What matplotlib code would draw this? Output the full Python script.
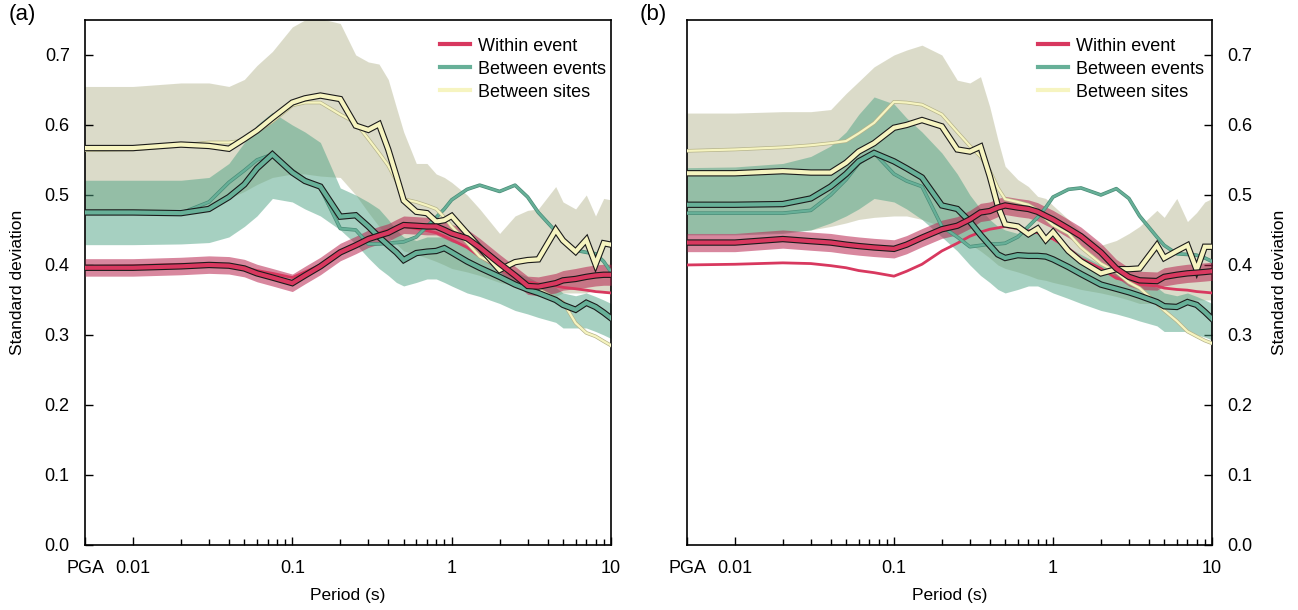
import numpy as np
import matplotlib
matplotlib.use('Agg')
import matplotlib.pyplot as plt
import matplotlib.patheffects as pe
from matplotlib.ticker import FixedLocator, FixedFormatter, NullFormatter

plt.rcParams['font.family'] = ['Liberation Sans', 'DejaVu Sans']

# periods (s); PGA is drawn at 0.005
period = [0.005, 0.01, 0.02, 0.03, 0.04, 0.05, 0.06, 0.075, 0.1, 0.12, 0.15, 0.2,
          0.25, 0.3, 0.35, 0.4, 0.45, 0.5, 0.6, 0.7, 0.8, 0.9, 1.0, 1.25, 1.5,
          2.0, 2.5, 3.0, 3.5, 4.5, 5.0, 6.0, 7.0, 8.0, 9.0, 10.0]

# ---- panel (a) ----
a_red = [0.396, 0.396, 0.398, 0.400, 0.399, 0.395, 0.388, 0.382, 0.374, 0.385, 0.398, 0.418,
         0.428, 0.437, 0.442, 0.446, 0.452, 0.457, 0.456, 0.455, 0.455, 0.450, 0.445, 0.438, 0.425,
         0.402, 0.385, 0.370, 0.369, 0.374, 0.378, 0.380, 0.383, 0.385, 0.386, 0.386]
a_red_hi = [0.409, 0.409, 0.411, 0.413, 0.412, 0.408, 0.401, 0.395, 0.387, 0.398, 0.411, 0.431,
            0.441, 0.450, 0.455, 0.459, 0.465, 0.470, 0.469, 0.468, 0.468, 0.463, 0.458, 0.451, 0.438,
            0.415, 0.398, 0.384, 0.383, 0.388, 0.392, 0.395, 0.398, 0.400, 0.401, 0.401]
a_red_lo = [0.384, 0.384, 0.386, 0.388, 0.387, 0.383, 0.376, 0.370, 0.362, 0.373, 0.386, 0.406,
            0.416, 0.425, 0.430, 0.434, 0.440, 0.445, 0.444, 0.443, 0.443, 0.438, 0.433, 0.426, 0.413,
            0.390, 0.373, 0.358, 0.356, 0.360, 0.364, 0.366, 0.368, 0.370, 0.371, 0.371]
a_teal = [0.475, 0.475, 0.474, 0.480, 0.497, 0.515, 0.538, 0.558, 0.532, 0.520, 0.512, 0.469,
          0.471, 0.455, 0.440, 0.428, 0.418, 0.407, 0.417, 0.419, 0.420, 0.424, 0.418, 0.405, 0.396,
          0.383, 0.372, 0.365, 0.360, 0.350, 0.343, 0.336, 0.346, 0.340, 0.332, 0.324]
a_teal_hi = [0.521, 0.521, 0.521, 0.525, 0.545, 0.575, 0.600, 0.618, 0.600, 0.590, 0.575, 0.510,
             0.500, 0.490, 0.480, 0.465, 0.450, 0.440, 0.435, 0.440, 0.440, 0.440, 0.435, 0.425, 0.415,
             0.400, 0.390, 0.383, 0.375, 0.368, 0.360, 0.356, 0.360, 0.355, 0.350, 0.345]
a_teal_lo = [0.429, 0.429, 0.430, 0.432, 0.440, 0.455, 0.470, 0.495, 0.490, 0.480, 0.470, 0.450,
             0.430, 0.410, 0.395, 0.385, 0.375, 0.370, 0.375, 0.380, 0.380, 0.375, 0.370, 0.360, 0.355,
             0.345, 0.335, 0.330, 0.325, 0.318, 0.310, 0.310, 0.310, 0.305, 0.300, 0.295]
a_yel = [0.567, 0.567, 0.572, 0.570, 0.566, 0.580, 0.592, 0.610, 0.632, 0.638, 0.642, 0.637,
         0.599, 0.593, 0.601, 0.565, 0.527, 0.492, 0.476, 0.474, 0.462, 0.464, 0.470, 0.445, 0.425,
         0.393, 0.404, 0.407, 0.408, 0.450, 0.435, 0.419, 0.436, 0.401, 0.431, 0.429]
a_yel_hi = [0.655, 0.655, 0.660, 0.660, 0.655, 0.665, 0.685, 0.705, 0.740, 0.750, 0.752, 0.745,
            0.700, 0.690, 0.687, 0.665, 0.625, 0.590, 0.545, 0.545, 0.530, 0.525, 0.518, 0.500, 0.480,
            0.445, 0.470, 0.478, 0.480, 0.512, 0.490, 0.480, 0.500, 0.470, 0.495, 0.493]
a_yel_lo = [0.479, 0.479, 0.480, 0.485, 0.495, 0.505, 0.515, 0.525, 0.530, 0.530, 0.527, 0.525,
            0.500, 0.475, 0.455, 0.440, 0.430, 0.420, 0.415, 0.410, 0.405, 0.400, 0.395, 0.390, 0.385,
            0.375, 0.370, 0.360, 0.355, 0.355, 0.360, 0.360, 0.360, 0.365, 0.360, 0.360]
a_red_ref = [0.398, 0.399, 0.401, 0.401, 0.399, 0.396, 0.392, 0.388, 0.382, 0.390, 0.400, 0.419,
             0.430, 0.440, 0.446, 0.450, 0.453, 0.455, 0.452, 0.449, 0.446, 0.441, 0.436, 0.425, 0.412,
             0.395, 0.382, 0.376, 0.373, 0.370, 0.368, 0.366, 0.364, 0.362, 0.361, 0.360]
a_teal_ref = [0.475, 0.474, 0.474, 0.490, 0.518, 0.535, 0.550, 0.558, 0.535, 0.522, 0.510, 0.452,
              0.450, 0.430, 0.430, 0.431, 0.432, 0.433, 0.440, 0.455, 0.468, 0.480, 0.493, 0.508, 0.514,
              0.505, 0.514, 0.497, 0.475, 0.448, 0.435, 0.421, 0.418, 0.416, 0.405, 0.390]
a_yel_ref = [0.564, 0.565, 0.571, 0.575, 0.575, 0.578, 0.590, 0.605, 0.628, 0.632, 0.632, 0.615,
             0.603, 0.580, 0.560, 0.542, 0.520, 0.494, 0.490, 0.485, 0.480, 0.468, 0.455, 0.432, 0.412,
             0.397, 0.385, 0.372, 0.365, 0.352, 0.347, 0.317, 0.303, 0.298, 0.291, 0.285]

# ---- panel (b) ----
b_red = [0.432, 0.432, 0.437, 0.434, 0.432, 0.429, 0.427, 0.425, 0.423, 0.429, 0.439, 0.451,
         0.456, 0.465, 0.475, 0.477, 0.482, 0.485, 0.482, 0.480, 0.476, 0.470, 0.465, 0.452, 0.441,
         0.418, 0.395, 0.383, 0.378, 0.377, 0.383, 0.386, 0.388, 0.389, 0.390, 0.391]
b_red_hi = [0.445, 0.445, 0.450, 0.447, 0.445, 0.442, 0.440, 0.438, 0.436, 0.442, 0.452, 0.464,
            0.469, 0.478, 0.488, 0.490, 0.495, 0.498, 0.495, 0.493, 0.489, 0.483, 0.478, 0.465, 0.454,
            0.431, 0.408, 0.396, 0.391, 0.390, 0.396, 0.399, 0.401, 0.402, 0.403, 0.404]
b_red_lo = [0.419, 0.419, 0.424, 0.421, 0.419, 0.416, 0.414, 0.412, 0.410, 0.416, 0.426, 0.438,
            0.443, 0.452, 0.462, 0.464, 0.469, 0.472, 0.469, 0.467, 0.463, 0.457, 0.452, 0.439, 0.428,
            0.405, 0.382, 0.370, 0.365, 0.364, 0.370, 0.373, 0.375, 0.376, 0.377, 0.378]
b_teal = [0.486, 0.486, 0.487, 0.495, 0.512, 0.530, 0.548, 0.560, 0.548, 0.538, 0.525, 0.485,
          0.480, 0.462, 0.443, 0.428, 0.415, 0.410, 0.414, 0.413, 0.413, 0.412, 0.408, 0.397, 0.387,
          0.372, 0.366, 0.361, 0.356, 0.347, 0.341, 0.340, 0.347, 0.343, 0.333, 0.323]
b_teal_hi = [0.539, 0.540, 0.545, 0.555, 0.570, 0.590, 0.615, 0.640, 0.630, 0.610, 0.590, 0.560,
             0.530, 0.500, 0.480, 0.465, 0.455, 0.450, 0.445, 0.445, 0.445, 0.440, 0.435, 0.425, 0.415,
             0.400, 0.390, 0.383, 0.375, 0.368, 0.360, 0.356, 0.360, 0.355, 0.350, 0.345]
b_teal_lo = [0.443, 0.443, 0.445, 0.450, 0.460, 0.470, 0.480, 0.495, 0.490, 0.480, 0.465, 0.440,
             0.420, 0.400, 0.385, 0.375, 0.365, 0.360, 0.365, 0.370, 0.370, 0.365, 0.360, 0.352, 0.345,
             0.335, 0.330, 0.325, 0.320, 0.313, 0.305, 0.305, 0.305, 0.300, 0.297, 0.293]
b_yel = [0.531, 0.531, 0.534, 0.532, 0.532, 0.546, 0.562, 0.574, 0.596, 0.600, 0.607, 0.598,
         0.565, 0.562, 0.569, 0.527, 0.484, 0.458, 0.455, 0.444, 0.452, 0.436, 0.447, 0.420, 0.405,
         0.388, 0.394, 0.394, 0.395, 0.428, 0.410, 0.420, 0.428, 0.393, 0.426, 0.426]
b_yel_hi = [0.617, 0.617, 0.619, 0.619, 0.622, 0.645, 0.662, 0.683, 0.700, 0.707, 0.714, 0.700,
            0.664, 0.660, 0.669, 0.626, 0.579, 0.541, 0.522, 0.512, 0.498, 0.495, 0.485, 0.465, 0.447,
            0.428, 0.435, 0.445, 0.455, 0.478, 0.468, 0.495, 0.462, 0.475, 0.490, 0.495]
b_yel_lo = [0.445, 0.445, 0.447, 0.450, 0.455, 0.460, 0.465, 0.468, 0.470, 0.470, 0.465, 0.455,
            0.440, 0.430, 0.420, 0.410, 0.400, 0.395, 0.390, 0.385, 0.380, 0.378, 0.375, 0.370, 0.365,
            0.360, 0.355, 0.350, 0.345, 0.345, 0.345, 0.345, 0.348, 0.350, 0.350, 0.350]
b_red_ref = [0.400, 0.401, 0.403, 0.402, 0.399, 0.396, 0.392, 0.389, 0.384, 0.391, 0.401, 0.420,
             0.431, 0.441, 0.447, 0.451, 0.453, 0.455, 0.452, 0.449, 0.446, 0.441, 0.437, 0.424, 0.409,
             0.395, 0.381, 0.377, 0.372, 0.370, 0.367, 0.365, 0.364, 0.362, 0.361, 0.360]
b_teal_ref = [0.474, 0.474, 0.474, 0.478, 0.500, 0.522, 0.545, 0.560, 0.530, 0.520, 0.512, 0.455,
              0.440, 0.426, 0.428, 0.430, 0.430, 0.431, 0.440, 0.455, 0.468, 0.482, 0.497, 0.508, 0.510,
              0.500, 0.509, 0.495, 0.470, 0.440, 0.428, 0.416, 0.415, 0.414, 0.410, 0.405]
b_yel_ref = [0.563, 0.565, 0.568, 0.571, 0.574, 0.577, 0.588, 0.603, 0.633, 0.632, 0.629, 0.615,
             0.590, 0.570, 0.555, 0.535, 0.510, 0.494, 0.490, 0.486, 0.478, 0.466, 0.457, 0.445, 0.425,
             0.402, 0.390, 0.375, 0.367, 0.345, 0.335, 0.320, 0.305, 0.298, 0.292, 0.288]

xtick_pos = [0.005, 0.01, 0.1, 1, 10]
xtick_lab = ['PGA', '0.01', '0.1', '1', '10']
labels = ['Within event', 'Between events', 'Between sites']

RED = '#d8385f'
TEAL = '#67b098'
YEL = '#f6f4c0'


def thick(ax, y, c):
    ax.plot(period, y, color=c, lw=3.0, solid_joinstyle='miter', zorder=6,
            path_effects=[pe.Stroke(linewidth=4.6, foreground='#1a1a1a'), pe.Normal()])


def thin(ax, y, c, edge, z=5):
    ax.plot(period, y, color=c, lw=1.6, zorder=z,
            path_effects=[pe.Stroke(linewidth=2.6, foreground=edge), pe.Normal()])


def panel(ax, d, tag, right=False):
    ax.fill_between(period, d['yel_lo'], d['yel_hi'], color='#b9b995', alpha=0.5, lw=0, zorder=1)
    ax.fill_between(period, d['teal_lo'], d['teal_hi'], color='#4fa384', alpha=0.5, lw=0, zorder=2)
    ax.fill_between(period, d['red_lo'], d['red_hi'], color='#b8244f', alpha=0.55, lw=0, zorder=3)

    ax.plot(period, d['red_ref'], color=RED, lw=2.0, zorder=4)
    thin(ax, d['teal_ref'], TEAL, '#4b8d78', 4)
    thin(ax, d['yel_ref'], YEL, '#b5b38a', 4)

    thick(ax, d['yel'], YEL)
    thick(ax, d['teal'], TEAL)
    thick(ax, d['red'], RED)

    ax.set_xscale('log')
    ax.set_xlim(0.005, 10)
    ax.set_ylim(0, 0.75)
    ax.xaxis.set_major_locator(FixedLocator(xtick_pos))
    ax.xaxis.set_major_formatter(FixedFormatter(xtick_lab))
    minors = [m * 10.0 ** e for e in (-2, -1, 0) for m in range(2, 10)]
    ax.xaxis.set_minor_locator(FixedLocator(minors))
    ax.xaxis.set_minor_formatter(NullFormatter())
    ax.set_yticks(np.arange(0, 0.71, 0.1))
    ax.set_yticklabels(['%.1f' % v for v in np.arange(0, 0.71, 0.1)])
    ax.tick_params(axis='both', which='major', direction='in', length=6, width=1,
                   labelsize=13)
    ax.tick_params(axis='x', which='major', pad=11)
    ax.tick_params(axis='y', which='major', pad=11)
    ax.tick_params(axis='x', which='minor', direction='in', length=4, width=1)
    ax.tick_params(top=False, which='both')
    if right:
        ax.yaxis.tick_right()
        ax.yaxis.set_label_position('right')
        ax.tick_params(axis='y', which='both', direction='in', left=False, right=True)
    ax.set_xlabel('Period (s)', fontsize=12.5, labelpad=8)
    ax.set_ylabel('Standard deviation', fontsize=12.5, labelpad=14)
    for s in ax.spines.values():
        s.set_linewidth(1.2)

    hs = [plt.Line2D([], [], color=c, lw=3) for c in (RED, TEAL, YEL)]
    ax.legend(hs, labels, loc='upper left', frameon=False, fontsize=13,
              handlelength=1.65, handletextpad=0.45, labelspacing=0.33,
              borderaxespad=0, borderpad=0,
              bbox_to_anchor=(0.675 if not right else 0.668, 0.966))
    ax.text(-0.146 if not right else -0.09, 1.03, tag, transform=ax.transAxes,
            fontsize=16, va='top', ha='left')


fig = plt.figure(figsize=(12.98, 6.10), dpi=100)
ax_a = fig.add_axes([0.0655, 0.1066, 0.4052, 0.8607])
ax_b = fig.add_axes([0.5293, 0.1066, 0.4045, 0.8607])

da = dict(red=a_red, red_hi=a_red_hi, red_lo=a_red_lo, teal=a_teal, teal_hi=a_teal_hi,
          teal_lo=a_teal_lo, yel=a_yel, yel_hi=a_yel_hi, yel_lo=a_yel_lo,
          red_ref=a_red_ref, teal_ref=a_teal_ref, yel_ref=a_yel_ref)
db = dict(red=b_red, red_hi=b_red_hi, red_lo=b_red_lo, teal=b_teal, teal_hi=b_teal_hi,
          teal_lo=b_teal_lo, yel=b_yel, yel_hi=b_yel_hi, yel_lo=b_yel_lo,
          red_ref=b_red_ref, teal_ref=b_teal_ref, yel_ref=b_yel_ref)

panel(ax_a, da, '(a)')
panel(ax_b, db, '(b)', right=True)

fig.savefig('out.png', dpi=100)
